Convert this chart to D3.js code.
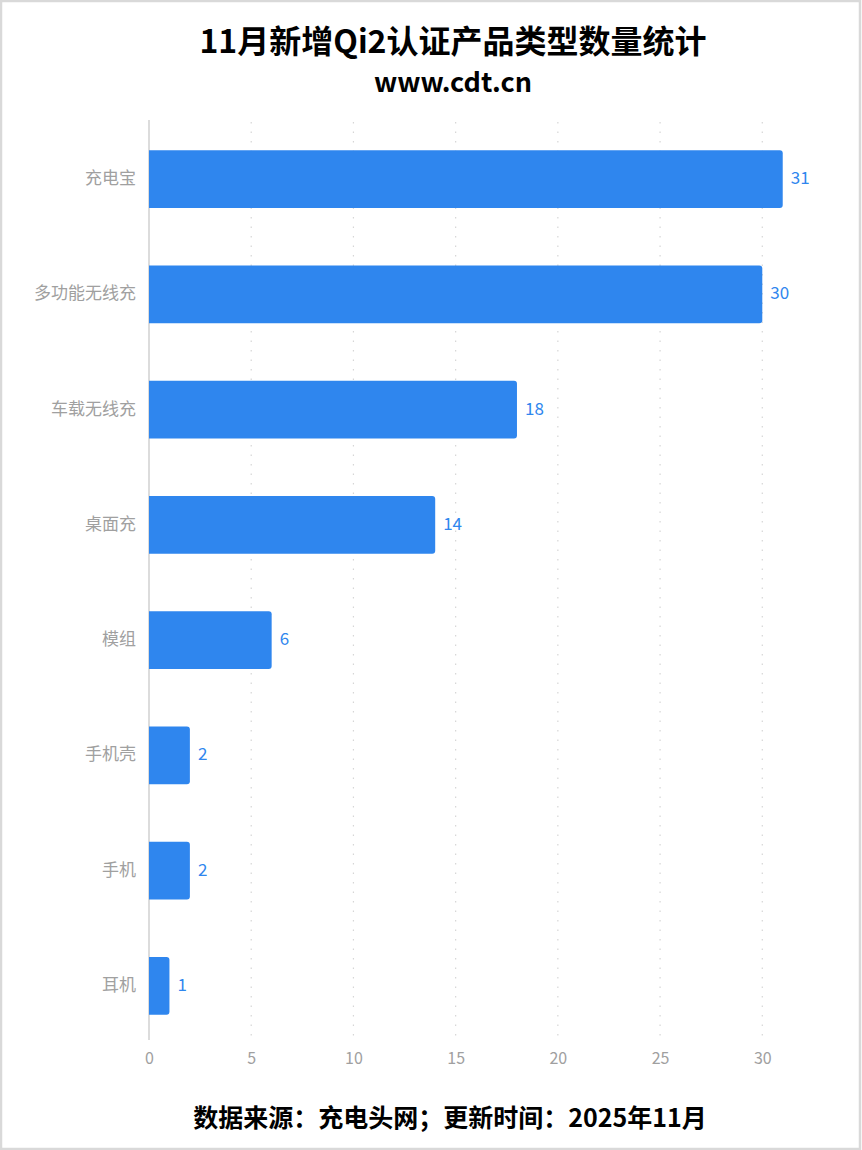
<!DOCTYPE html>
<html><head><meta charset="utf-8">
<script src="https://cdn.jsdelivr.net/npm/d3@7"></script>
<style>body{margin:0;background:#fff}svg{display:block}</style>
</head><body>
<svg id="c" width="862" height="1150"></svg>
<script>
const categories = ["充电宝","多功能无线充","车载无线充","桌面充","模组","手机壳","手机","耳机"];
const values = [31,30,18,14,6,2,2,1];
const tickValues = [0,5,10,15,20,25,30];
const titleText = "11月新增Qi2认证产品类型数量统计";
const subtitleText = "www.cdt.cn";
const footerText = "数据来源：充电头网；更新时间：2025年11月";

const svg = d3.select("#c");
const W = 862, H = 1150;
const font = "'Noto Sans CJK SC','Noto Sans',sans-serif";
svg.append("rect").attr("x",1).attr("y",1).attr("width",W-3).attr("height",H-2)
  .attr("fill","#fff").attr("stroke","#d9d9d9").attr("stroke-width",2.5);

const x = d3.scaleLinear().domain([0,35]).range([149,864.5]);
const y = d3.scaleBand().domain(categories).range([121.5,1043.5]).paddingInner(0.5).paddingOuter(0.25);

// gridlines
svg.append("g").selectAll("line").data(tickValues.filter(d=>d>0)).join("line")
  .attr("x1",d=>x(d)).attr("x2",d=>x(d)).attr("y1",122).attr("y2",1040)
  .attr("stroke","#d6d6d6").attr("stroke-width",1.2).attr("stroke-dasharray","1.5,8");
// axis line
svg.append("line").attr("x1",x(0)).attr("x2",x(0)).attr("y1",120).attr("y2",1040)
  .attr("stroke","#dcdcdc").attr("stroke-width",2);

// x axis labels
const xa = svg.append("g").attr("transform","translate(0,1040)")
  .call(d3.axisBottom(x).tickValues(tickValues).tickSize(0).tickPadding(13));
xa.select(".domain").remove();
xa.selectAll("text").attr("fill","#a0a0a0").style("font-family",font).style("font-size","16px");

// y axis labels
const ya = svg.append("g").attr("transform","translate(136,0)")
  .call(d3.axisLeft(y).tickSize(0).tickPadding(0));
ya.select(".domain").remove();
ya.selectAll("text").attr("fill","#a0a0a0").style("font-family",font).style("font-size","17px").attr("dy","0.3em");

const data = categories.map((c,i)=>({c,v:values[i]}));
const r = 3;
function barPath(d){
  const x0 = x(0), x1 = x(d.v), y0 = y(d.c), h = y.bandwidth();
  return `M${x0},${y0}H${x1-r}Q${x1},${y0} ${x1},${y0+r}V${y0+h-r}Q${x1},${y0+h} ${x1-r},${y0+h}H${x0}Z`;
}
svg.append("g").selectAll("path").data(data).join("path")
  .attr("d",barPath).attr("fill","#2f86ee");
svg.append("g").selectAll("text").data(data).join("text")
  .attr("x",d=>x(d.v)+8).attr("y",d=>y(d.c)+y.bandwidth()/2).attr("dy","0.3em")
  .attr("fill","#2f86ee").style("font-family",font).style("font-size","17px").text(d=>d.v);

svg.append("text").attr("x",453).attr("y",53).attr("text-anchor","middle")
  .style("font-family",font).style("font-weight","bold").style("font-size","32px").attr("fill","#000").text(titleText);
svg.append("text").attr("x",453).attr("y",92).attr("text-anchor","middle")
  .style("font-family",font).style("font-weight","bold").style("font-size","27px").attr("fill","#000").text(subtitleText);
svg.append("text").attr("x",450).attr("y",1127).attr("text-anchor","middle")
  .style("font-family",font).style("font-weight","bold").style("font-size","25px").attr("fill","#000").text(footerText);
</script>
</body></html>
